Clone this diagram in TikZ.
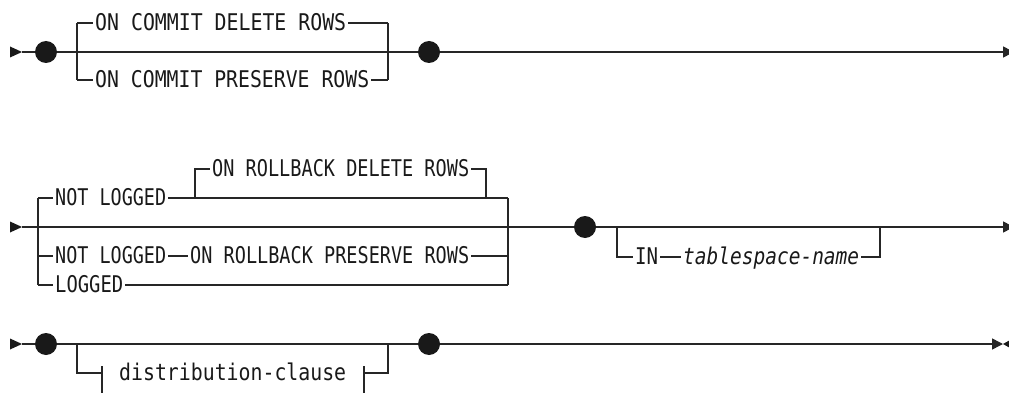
\documentclass[tikz,border=0pt]{standalone}
\usepackage{fontspec}
\usepackage{graphicx}
\newfontfamily\lblmono{DejaVu Sans Mono}
\newcommand\fw[2]{\resizebox{#1pt}{\height}{#2}}
\usetikzlibrary{arrows.meta}
\tikzset{
  rr/.style={line width=1.5pt, draw=black!85},
  lbl/.style={anchor=west, inner xsep=2pt, inner ysep=0pt, text height=14.5pt, text depth=0pt,
    font=\lblmono\fontsize{23pt}{25pt}\selectfont, text=black!90},
  dot/.style={circle, fill=black!90, inner sep=0pt, minimum size=22pt},
  startmark/.style={fill=black!90},
  endarrow/.style={rr, -{Triangle[length=11pt,width=11pt]}}
}
\begin{document}
\begin{tikzpicture}[x=1pt,y=-1pt]
\useasboundingbox (0,0) rectangle (1009,393);
\clip (0,0) rectangle (1009,393);

% ---------------- Row 1 ----------------
\fill[startmark] (10,46.5) -- (22,52) -- (10,57.5) -- cycle;
\coordinate (s1) at (22,52);
\node[dot] (d1) at (46,52) {};
\node[dot] (d2) at (429,52) {};
\coordinate (e1) at (1014,52);
\coordinate (a1t) at (77,23);
\coordinate (a1b) at (77,80);
\coordinate (b1t) at (388,23);
\coordinate (b1b) at (388,80);
\node[lbl] (t1) at (93,23) {\fw{251}{ON COMMIT DELETE ROWS}};
\node[lbl] (t2) at (93,80) {\fw{274}{ON COMMIT PRESERVE ROWS}};
\draw[rr] (s1) -- (d1);
\draw[rr] (d1) -- (d2);
\draw[endarrow] (d2) -- (e1);
\draw[rr] (a1t) -- (a1b);
\draw[rr] (b1t) -- (b1b);
\draw[rr] (a1t) -- (t1.west);
\draw[rr] (t1.east) -- (b1t);
\draw[rr] (a1b) -- (t2.west);
\draw[rr] (t2.east) -- (b1b);

% ---------------- Row 2 ----------------
\fill[startmark] (10,221.5) -- (22,227) -- (10,232.5) -- cycle;
\coordinate (s2) at (22,227);
\node[dot] (d3) at (585,227) {};
\coordinate (e2) at (1014,227);
\coordinate (a2t) at (38,198);
\coordinate (a2m) at (38,256);
\coordinate (a2b) at (38,285);
\coordinate (b2t) at (508,198);
\coordinate (b2m) at (508,256);
\coordinate (b2b) at (508,285);
\node[lbl] (n1) at (53,198) {\fw{111}{NOT LOGGED}};
\node[lbl] (n2) at (53,256) {\fw{111}{NOT LOGGED}};
\node[lbl] (n3) at (53,285) {\fw{68}{LOGGED}};
\node[lbl] (r1) at (210,169) {\fw{257}{ON ROLLBACK DELETE ROWS}};
\node[lbl] (r2) at (188,256) {\fw{279}{ON ROLLBACK PRESERVE ROWS}};
\coordinate (i1b) at (195,198);
\coordinate (i1t) at (195,169);
\coordinate (i2b) at (486,198);
\coordinate (i2t) at (486,169);
\draw[rr] (s2) -- (d3);
\draw[endarrow] (d3) -- (e2);
\draw[rr] (a2t) -- (a2b);
\draw[rr] (b2t) -- (b2b);
\draw[rr] (a2t) -- (n1.west);
\draw[rr] (n1.east) -- (b2t);
\draw[rr] (i1b) -- (i1t) -- (r1.west);
\draw[rr] (r1.east) -- (i2t) -- (i2b);
\draw[rr] (a2m) -- (n2.west);
\draw[rr] (n2.east) -- (r2.west);
\draw[rr] (r2.east) -- (b2m);
\draw[rr] (a2b) -- (n3.west);
\draw[rr] (n3.east) -- (b2b);
% IN tablespace-name
\coordinate (p1t) at (617,227);
\coordinate (p1b) at (617,257);
\coordinate (p2t) at (880,227);
\coordinate (p2b) at (880,257);
\node[lbl] (in) at (633,257) {\fw{23}{IN}};
\node[lbl] (ts) at (681,257) {\fw{176}{\itshape tablespace-name}};
\draw[rr] (p1t) -- (p1b) -- (in.west);
\draw[rr] (in.east) -- (ts.west);
\draw[rr] (ts.east) -- (p2b) -- (p2t);

% ---------------- Row 3 ----------------
\fill[startmark] (10,338.5) -- (22,344) -- (10,349.5) -- cycle;
\coordinate (s3) at (22,344);
\node[dot] (d5) at (46,344) {};
\node[dot] (d6) at (429,344) {};
\coordinate (e3) at (1003,344);
\draw[rr] (s3) -- (d5);
\draw[rr] (d5) -- (d6);
\draw[endarrow] (d6) -- (e3);
\fill[startmark] (1011,339.5) -- (1003,344) -- (1011,348.5) -- cycle;
\coordinate (q1t) at (77,344);
\coordinate (q1b) at (77,373);
\coordinate (q2t) at (388,344);
\coordinate (q2b) at (388,373);
\coordinate (bl) at (102,373);
\coordinate (blt) at (102,366);
\coordinate (blb) at (102,400);
\coordinate (br) at (364,373);
\coordinate (brt) at (364,366);
\coordinate (brb) at (364,400);
\node[lbl] (dc) at (117,373) {\fw{227}{distribution-clause}};
\draw[rr] (q1t) -- (q1b) -- (bl);
\draw[rr] (blt) -- (blb);
\draw[rr] (brt) -- (brb);
\draw[rr] (br) -- (q2b) -- (q2t);
\end{tikzpicture}
\end{document}
